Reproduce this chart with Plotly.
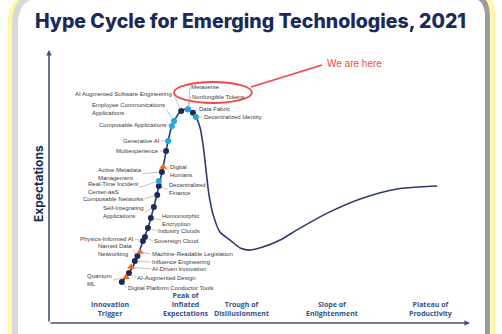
import plotly.graph_objects as go

# ---- Hype curve (time-to-maturity vs. expectations, 0-100 scale) ----
curve_x = [17.3, 19.0, 20.7, 22.3, 23.5, 24.9, 26.1, 27.1, 28.3, 29.2, 30.3, 31.4, 33.0, 34.2,
           35.0, 35.9, 36.6, 37.3, 38.0, 39.0, 40.6, 43.0, 45.4, 47.7, 50.8, 54.9, 58.9, 66.7,
           74.6, 82.7, 92.2]
curve_y = [15.0, 18.3, 23.1, 30.0, 34.8, 42.5, 50.2, 57.1, 66.7, 72.2, 75.6, 77.7, 78.4, 77.0,
           75.2, 71.4, 65.2, 56.0, 46.9, 39.6, 33.3, 30.4, 27.5, 26.7, 27.8, 30.4, 34.1, 40.7,
           45.8, 49.1, 50.2]

# ---- Technologies on the curve ----
technologies = [
    "Digital Platform Conductor Tools", "Quantum\nML", "AI-Augmented Design",
    "AI-Driven Innovation", "Influence Engineering", "Named Data\nNetworking",
    "Machine-Readable Legislation", "Physics-Informed AI", "Sovereign Cloud",
    "Industry Clouds", "Homomorphic\nEncryption", "Self-Integrating\nApplications",
    "Composable Networks", "Decentralized\nFinance", "Real-Time Incident\nCenter-aaS",
    "Active Metadata\nManagement", "Digital\nHumans", "Multiexperience", "Generative AI",
    "Composable Applications", "Employee Communications\nApplications",
    "AI Augmented Software Engineering", "Metaverse", "Nonfungible Tokens", "Data Fabric",
    "Decentralized Identity",
]
tech_x = [17.3, 18.3, 19.0, 19.5, 20.4, 21.0, 21.6, 22.3, 22.8, 23.5, 24.2, 24.9, 25.7, 26.1,
          26.1, 26.8, 27.1, 27.8, 28.3, 29.2, 29.7, 31.4, 33.0, 33.0, 34.2, 34.9]
tech_y = [15.0, 16.8, 18.3, 20.5, 22.7, 24.5, 26.0, 30.0, 31.5, 34.8, 38.5, 42.5, 46.9, 50.2,
          52.0, 55.3, 57.1, 63.0, 66.7, 72.2, 74.0, 77.7, 78.3, 78.2, 77.0, 75.5]
# years to mainstream adoption
horizon = ["5-10", ">10", "5-10", ">10", "5-10", "5-10", ">10", "5-10", "5-10", "5-10", "5-10",
           "5-10", "5-10", "5-10", "2-5", "5-10", ">10", "5-10", "2-5", "2-5", "2-5", "5-10",
           "2-5", "2-5", "5-10", "2-5"]

phases = ["Innovation\nTrigger", "Peak of\nInflated\nExpectations", "Trough of\nDisillusionment",
          "Slope of\nEnlightenment", "Plateau of\nProductivity"]
phase_x = [14.5, 32.5, 45.8, 67.2, 90.5]

# ---- Label placement: (dx px, dy px, side) relative to each marker ----
label_place = {
    "Digital Platform Conductor Tools": (5, 6, "left"),
    "Quantum\nML": (-13, 3, "right"),
    "AI-Augmented Design": (7, 5, "left"),
    "AI-Driven Innovation": (20, 2, "left"),
    "Influence Engineering": (16, 1, "left"),
    "Named Data\nNetworking": (-4, -6, "right"),
    "Machine-Readable Legislation": (11, 2, "left"),
    "Physics-Informed AI": (-8, -2, "right"),
    "Sovereign Cloud": (8, 4, "left"),
    "Industry Clouds": (9, 3, "left"),
    "Homomorphic\nEncryption": (10, 2, "left"),
    "Self-Integrating\nApplications": (-9, 5, "right"),
    "Composable Networks": (-13, 4, "right"),
    "Decentralized\nFinance": (9, 3.5, "left"),
    "Real-Time Incident\nCenter-aaS": (-20, 6.5, "right"),
    "Active Metadata\nManagement": (-19, 1.5, "right"),
    "Digital\nHumans": (6, 3.5, "left"),
    "Multiexperience": (-6, 0, "right"),
    "Generative AI": (-7, 0, "right"),
    "Composable Applications": (-5, -1, "right"),
    "Employee Communications\nApplications": (-8, -12, "right"),
    "AI Augmented Software Engineering": (-8, -17, "right"),
    "Metaverse": (2, -22, "left"),
    "Nonfungible Tokens": (3, -13, "left"),
    "Data Fabric": (5, -4, "left"),
    "Decentralized Identity": (7, 0, "left"),
}

NAVY = "#1c2a58"
AXIS = "#45527f"
LIGHT_BLUE = "#27a4e0"
ORANGE = "#f26a22"
RED = "#f04848"
LABEL = "#3a3a3a"

W, H = 502, 334
ML, MR, MT, MB = 49, 32, 50, 11
PW, PH = W - ML - MR, H - MT - MB


def px_x(v):
    return (v - ML) / PW


def px_y(v):
    return (H - MB - v) / PH


fig = go.Figure()

fig.add_trace(go.Scatter(x=curve_x, y=curve_y, mode="lines",
                         line=dict(color="#2e3c6c", width=1.6, shape="spline", smoothing=0.8),
                         hoverinfo="skip", showlegend=False))

styles = {
    "5-10": dict(color=NAVY, symbol="circle", size=6),
    "2-5": dict(color=LIGHT_BLUE, symbol="circle", size=6),
    ">10": dict(color=ORANGE, symbol="triangle-up", size=7),
}
for key, st in styles.items():
    idx = [i for i, h in enumerate(horizon) if h == key]
    fig.add_trace(go.Scatter(
        x=[tech_x[i] for i in idx], y=[tech_y[i] for i in idx], mode="markers",
        marker=dict(color=st["color"], symbol=st["symbol"], size=st["size"], line=dict(width=0)),
        text=[technologies[i].replace("\n", " ") for i in idx], hoverinfo="text",
        showlegend=False))

annotations = []
for name, x, y in zip(technologies, tech_x, tech_y):
    dx, dy, side = label_place[name]
    annotations.append(dict(
        x=x, y=y, xref="x", yref="y", ax=dx, ay=dy, axref="pixel", ayref="pixel",
        text=name.replace("\n", "<br>"), showarrow=True, arrowhead=0, arrowwidth=0.6,
        arrowcolor="#9a9a9a", standoff=2, xanchor=side, yanchor="middle", align="left",
        borderpad=0, font=dict(family="Liberation Sans, Arial, sans-serif", size=6, color=LABEL)))

for name, x in zip(phases, phase_x):
    annotations.append(dict(
        x=x, y=0.01, xref="x", yref="paper", yanchor="bottom", xanchor="center",
        text="<b>" + name.replace("\n", "<br>") + "</b>", showarrow=False, align="center",
        font=dict(family="Open Sans, sans-serif", size=7, color="#34508c")))

# axes with arrowheads
annotations.append(dict(x=100, y=0, ax=0, ay=0, xref="x", yref="y", axref="x", ayref="y",
                        showarrow=True, arrowhead=2, arrowsize=0.7, arrowwidth=1.6,
                        arrowcolor=AXIS, text=""))
annotations.append(dict(x=0, y=100, ax=0, ay=0, xref="x", yref="y", axref="x", ayref="y",
                        showarrow=True, arrowhead=2, arrowsize=0.7, arrowwidth=1.6,
                        arrowcolor=AXIS, text=""))

annotations.append(dict(x=px_x(38), y=px_y(184), xref="paper", yref="paper", textangle=-90,
                        xanchor="center", yanchor="middle",
                        text="<b>Expectations</b>", showarrow=False,
                        font=dict(family="Inter, Lato, sans-serif", size=12, color=NAVY)))

annotations.append(dict(x=px_x(325), y=px_y(63), xref="paper", yref="paper", xanchor="left",
                        yanchor="middle", text="We are here", showarrow=False,
                        font=dict(family="Liberation Sans, Arial, sans-serif", size=10,
                                  color=RED)))

shapes = []
# card border: soft yellow glow and grey edge
def side_path(xc, top, r, left=True):
    x0 = px_x(xc)
    yb = px_y(H + 20)
    yt = px_y(top)
    ycorner = px_y(top + r)
    xinner = px_x(xc + r) if left else px_x(xc - r)
    return f"M {x0},{yb} L {x0},{ycorner} Q {x0},{yt} {xinner},{yt}"

shapes.append(dict(type="path", path=side_path(10, -6, 30), xref="paper", yref="paper",
                   line=dict(color="#fff6a6", width=4.5)))
shapes.append(dict(type="path", path=side_path(15, -6, 30), xref="paper", yref="paper",
                   line=dict(color="#d9d9d9", width=6)))
shapes.append(dict(type="path", path=side_path(493, -6, 22, left=False), xref="paper",
                   yref="paper", line=dict(color="#fff6a6", width=5)))
shapes.append(dict(type="path", path=side_path(487.5, -6, 22, left=False), xref="paper",
                   yref="paper", line=dict(color="#9c9c9c", width=5)))

# callout ellipse and pointer
shapes.append(dict(type="circle", xref="paper", yref="paper", x0=px_x(174), x1=px_x(252),
                   y0=px_y(103), y1=px_y(82), line=dict(color=RED, width=1.8)))
shapes.append(dict(type="line", xref="paper", yref="paper", x0=px_x(251), y0=px_y(87),
                   x1=px_x(322), y1=px_y(65), line=dict(color=RED, width=1.8)))

axis_common = dict(showgrid=False, zeroline=False, showticklabels=False, ticks="",
                   showline=False, fixedrange=True)
fig.update_layout(
    width=W, height=H, autosize=False,
    margin=dict(l=ML, r=MR, t=MT, b=MB),
    paper_bgcolor="white", plot_bgcolor="white",
    xaxis=dict(range=[0, 100], **axis_common),
    yaxis=dict(range=[0, 100], **axis_common),
    title=dict(text="Hype Cycle for Emerging Technologies, 2021", x=0.499, xanchor="center",
               y=1 - 21 / H, yanchor="middle", yref="container",
               font=dict(family="Inter, sans-serif", size=19.5, weight=800, color=NAVY)),
    annotations=annotations, shapes=shapes,
)

fig.write_html("out.html", config={"displayModeBar": False})
